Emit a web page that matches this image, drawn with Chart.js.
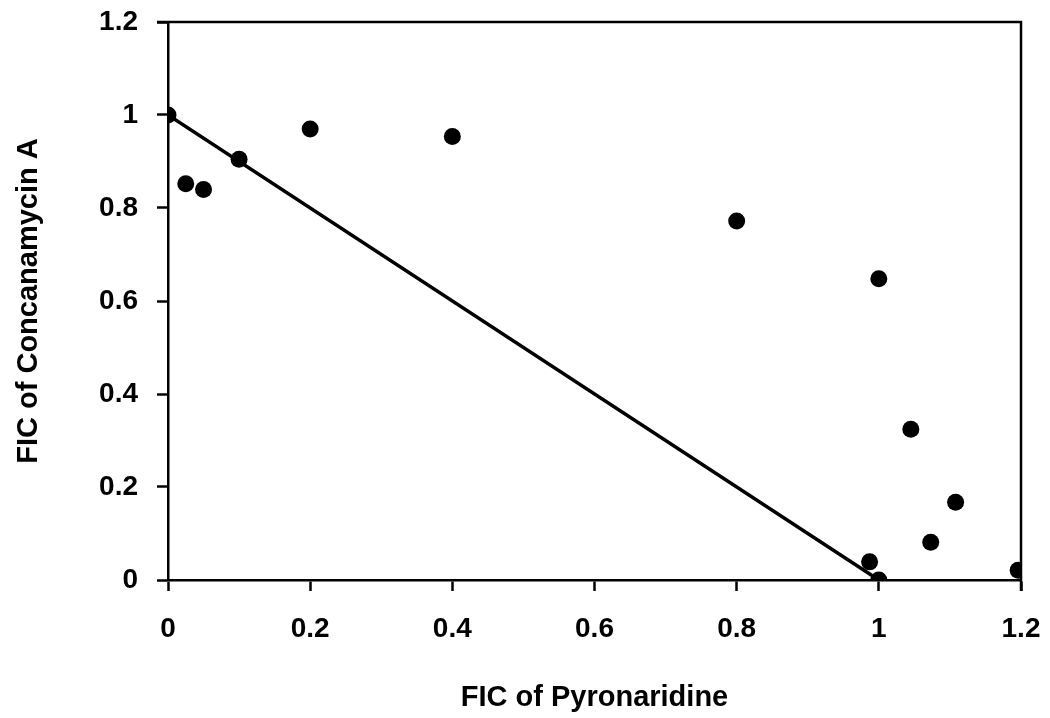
<!DOCTYPE html>
<html>
<head>
<meta charset="utf-8">
<script src="https://cdn.jsdelivr.net/npm/chart.js@4"></script>
<style>
  html, body { margin: 0; padding: 0; background: #ffffff; }
  #wrap { width: 1050px; height: 718px; }
</style>
</head>
<body>
<div id="wrap"><canvas id="c" width="1050" height="718"></canvas></div>
<script>
// FIC of pyronaridine (x) vs FIC of concanamycin A (y)
const ficPyronaridine = [0, 0.025, 0.05, 0.1, 0.2, 0.4, 0.8, 1.0, 1.045, 1.108, 1.073, 0.987, 1.0, 1.196];
const ficConcanamycin = [1.0, 0.852, 0.84, 0.905, 0.97, 0.954, 0.772, 0.648, 0.324, 0.167, 0.081, 0.039, 0.0, 0.021];

// additivity line
const lineX = [0, 1];
const lineY = [1, 0];

const xTicks = [0, 0.2, 0.4, 0.6, 0.8, 1, 1.2];
const yTicks = [0, 0.2, 0.4, 0.6, 0.8, 1, 1.2];

const FONT = "'Liberation Sans', Arial, sans-serif";

// frame: top and right borders of the plot area
const framePlugin = {
  id: 'frame',
  afterDatasetsDraw(chart) {
    const { ctx, chartArea: a } = chart;
    ctx.save();
    ctx.strokeStyle = '#000';
    ctx.lineWidth = 2.5;
    ctx.beginPath();
    ctx.moveTo(a.left - 11, a.top);
    ctx.lineTo(a.right, a.top);
    ctx.lineTo(a.right, a.bottom + 11);
    ctx.stroke();
    ctx.restore();
  }
};

new Chart(document.getElementById('c'), {
  type: 'scatter',
  data: {
    datasets: [
      {
        label: 'additivity',
        data: lineX.map((x, i) => ({ x, y: lineY[i] })),
        showLine: true,
        borderColor: '#000',
        borderWidth: 3.5,
        pointRadius: 0,
        fill: false,
        order: 2
      },
      {
        label: 'FIC',
        data: ficPyronaridine.map((x, i) => ({ x, y: ficConcanamycin[i] })),
        backgroundColor: '#000',
        borderColor: '#000',
        borderWidth: 0,
        pointRadius: 8.5,
        pointHoverRadius: 8.5,
        order: 1
      }
    ]
  },
  plugins: [framePlugin],
  options: {
    responsive: false,
    animation: false,
    devicePixelRatio: 1,
    layout: { padding: { top: 22, right: 29, left: 0, bottom: 0 } },
    plugins: { legend: { display: false }, tooltip: { enabled: false } },
    elements: { point: { pointStyle: 'circle' } },
    scales: {
      x: {
        type: 'linear',
        min: 0, max: 1.2,
        afterBuildTicks(scale) { scale.ticks = xTicks.map(v => ({ value: v })); },
        afterFit(scale) {
          scale.height = 138;
          scale.paddingLeft = 0;
          scale.paddingRight = 0;
        },
        ticks: {
          color: '#000',
          font: { family: FONT, size: 28, weight: 'bold' },
          padding: 21,
          maxRotation: 0,
          callback: v => String(v)
        },
        grid: { drawOnChartArea: false, tickLength: 11, tickWidth: 2.5, tickColor: '#000' },
        border: { display: true, color: '#000', width: 2.5 },
        title: {
          display: true,
          text: 'FIC of Pyronaridine',
          color: '#000',
          font: { family: FONT, size: 29, weight: 'bold' },
          padding: { top: 0, bottom: 3 }
        }
      },
      y: {
        type: 'linear',
        min: 0, max: 1.2,
        afterBuildTicks(scale) { scale.ticks = yTicks.map(v => ({ value: v })); },
        afterFit(scale) {
          scale.width = 168;
          scale.paddingTop = 0;
          scale.paddingBottom = 0;
        },
        ticks: {
          color: '#000',
          font: { family: FONT, size: 28, weight: 'bold' },
          padding: 19,
          callback: v => String(v)
        },
        grid: { drawOnChartArea: false, tickLength: 11, tickWidth: 2.5, tickColor: '#000' },
        border: { display: true, color: '#000', width: 2.5 },
        title: {
          display: true,
          text: 'FIC of Concanamycin A',
          color: '#000',
          font: { family: FONT, size: 29, weight: 'bold' },
          padding: { top: 12, bottom: 0 }
        }
      }
    }
  }
});
</script>
</body>
</html>
